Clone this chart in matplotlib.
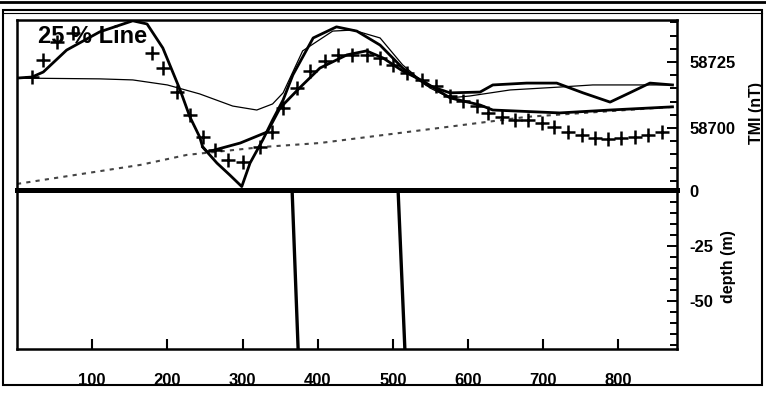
import matplotlib
matplotlib.use("Agg")
import matplotlib.pyplot as plt
from matplotlib.ticker import MultipleLocator

plt.rcParams['font.family'] = ['Liberation Sans', 'DejaVu Sans']

# observed TMI (crosses)
obs_x = [20, 35, 53, 74.5, 179.5, 194, 213, 230, 247, 263, 281, 300, 323, 339, 354, 372,
         390, 410, 427, 445, 465, 483, 500, 519, 539, 558, 576, 593, 612, 626, 645,
         662, 680, 698, 715, 733, 751, 769, 786, 804, 822, 839, 858]
obs_y = [58719.3, 58725.8, 58732.6, 58736.0, 58728.4, 58722.7, 58713.6, 58704.9, 58696.6,
         58691.7, 58687.9, 58687.1, 58692.8, 58698.5, 58707.6, 58715.2, 58721.6, 58725.4,
         58727.7, 58727.7, 58727.7, 58726.5, 58723.9, 58720.8, 58718.2, 58715.9, 58712.1,
         58710.2, 58708.3, 58705.7, 58704.2, 58703.0, 58703.0, 58701.9, 58700.4, 58698.5,
         58697.3, 58696.2, 58695.8, 58696.2, 58696.6, 58697.3, 58698.5]

# model response, thick
modA_x = [0, 20, 35, 66, 110, 154, 173, 194, 217, 230, 243, 247, 266, 283, 299, 310, 327,
          340, 354, 367, 394, 425, 452, 483, 513, 545, 576, 616, 633, 678, 718, 753, 789,
          815, 842, 872]
modA_y = [58718.9, 58719.3, 58721.2, 58729.5, 58736.4, 58740.6, 58739.4, 58730.3, 58714.4,
          58704.2, 58696.6, 58692.8, 58686.7, 58682.2, 58677.8, 58686.7, 58695.5, 58703.0,
          58710.6, 58720.1, 58734.1, 58738.3, 58736.7, 58731.4, 58722.7, 58716.3, 58713.3,
          58713.6, 58716.3, 58717.0, 58717.0, 58713.3, 58709.8, 58713.3, 58717.0, 58716.3]

# second model, thick (same as the first one left of x=247)
modB_x = [247, 253, 297, 333, 350, 376, 403, 439, 465, 487, 513, 540, 576, 616,
          633, 722, 789, 872]
modB_y = [58692.8, 58690.9, 58694.3, 58698.5, 58707.6, 58715.2, 58722.7,
          58727.7, 58729.2, 58726.5, 58721.6, 58717.8, 58711.4, 58708.7, 58706.8, 58705.7,
          58706.8, 58708.0]

# initial model, thin
modC_x = [0, 110, 154, 200, 243, 287, 319, 340, 354, 380, 420, 447, 483, 513, 549, 576,
          602, 656, 722, 766, 872]
modC_y = [58718.9, 58718.6, 58718.2, 58716.3, 58712.9, 58708.3, 58706.8, 58709.1, 58713.3,
          58729.2, 58736.7, 58737.1, 58734.1, 58723.9, 58715.2, 58711.4, 58712.1, 58714.4,
          58715.5, 58716.3, 58716.3]

# regional trend, dotted
reg_x = [0, 164, 226, 327, 403, 509, 678, 872]
reg_y = [58678.8, 58686.0, 58689.8, 58692.8, 58694.3, 58698.1, 58704.2, 58708.0]

# body edges (x at top, x at bottom)
body_left = [366, 374]
body_right = [507, 516]
body_depth = [0, -72]

fig = plt.figure(figsize=(7.66, 3.96), dpi=100)
W, H = 766, 396

def fx(px):
    return px / W

def fy(py):
    return 1 - py / H

ax = fig.add_axes([fx(17), fy(190), fx(677) - fx(17), fy(20) - fy(190)])
axd = fig.add_axes([fx(17), fy(349), fx(677) - fx(17), fy(190) - fy(349)], sharex=ax)

ax.plot(reg_x, reg_y, color='#444444', lw=1.5, ls=(0, (2, 2.5)))
ax.plot(modC_x, modC_y, color='black', lw=0.9)
ax.plot(modB_x, modB_y, color='black', lw=2.0)
ax.plot(modA_x, modA_y, color='black', lw=2.0)
ax.plot(obs_x, obs_y, ls='none', marker='+', ms=10, mew=1.8, color='black')

ax.set_xlim(0, 878)
ax.set_ylim(58676.5, 58740.9)
axd.set_ylim(-71.8, 0.4)

axd.plot(body_left, body_depth, color='black', lw=2.4)
axd.plot(body_right, body_depth, color='black', lw=2.4)

for a in (ax, axd):
    for s in a.spines.values():
        s.set_linewidth(1.8)
    a.yaxis.tick_right()
    a.tick_params(axis='y', which='both', direction='in', left=False, right=True,
                  width=1.4, pad=9, labelsize=12)
    a.tick_params(axis='y', which='major', length=7)
    a.tick_params(axis='y', which='minor', length=5)

ax.spines['bottom'].set_visible(False)
axd.spines['top'].set_linewidth(3.6)
ax.tick_params(axis='x', which='both', bottom=False, labelbottom=False)

ax.yaxis.set_minor_locator(MultipleLocator(5))
axd.yaxis.set_minor_locator(MultipleLocator(5))
ax.set_yticks([58700, 58725])
ax.set_yticklabels(['58700', '58725'], fontweight='bold')
axd.set_yticks([0, -25, -50])
axd.set_yticklabels(['0', '-25', '-50'], fontweight='bold')

axd.set_xticks([100, 200, 300, 400, 500, 600, 700, 800])
axd.set_xticklabels(['100', '200', '300', '400', '500', '600', '700', '800'],
                    fontweight='bold')
axd.tick_params(axis='x', direction='in', length=7, width=1.5, pad=17, labelsize=12)

fig.text(fx(38), fy(43), '25 % Line', fontsize=17, fontweight='bold', va='baseline')
fig.text(fx(756), fy(113), 'TMI (nT)', rotation=90, fontsize=11.5, fontweight='bold',
         ha='center', va='center')
fig.text(fx(729), fy(267), 'depth (m)', rotation=90, fontsize=11.5, fontweight='bold',
         ha='center', va='center')

# outer frame of the scanned figure
frame = plt.Rectangle((fx(3), fy(385)), fx(762) - fx(3), fy(10) - fy(385),
                      transform=fig.transFigure, fill=False, lw=1.5, color='black')
fig.add_artist(frame)
fig.add_artist(plt.Line2D([0, 1], [fy(1.5), fy(1.5)], transform=fig.transFigure,
                          color='black', lw=2))
fig.add_artist(plt.Line2D([fx(3), fx(762)], [fy(13), fy(13)], transform=fig.transFigure,
                          color='black', lw=0.8))

fig.savefig('out.png', dpi=100)
